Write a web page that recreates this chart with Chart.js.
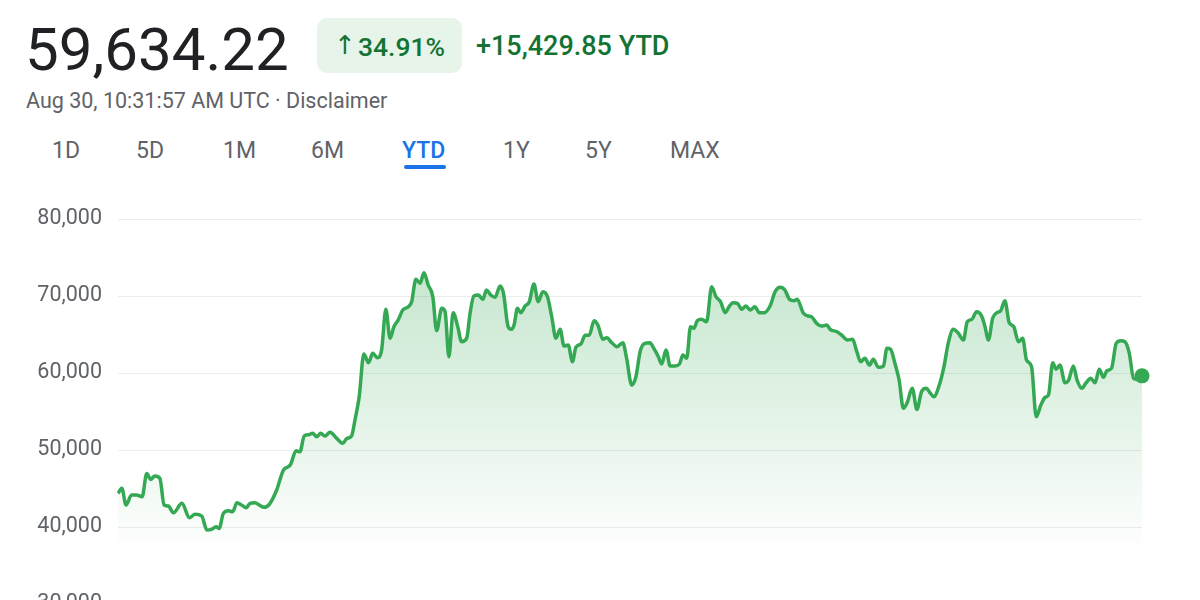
<!DOCTYPE html>
<html>
<head>
<meta charset="utf-8">
<script src="https://cdn.jsdelivr.net/npm/chart.js@4"></script>
<style>
  html, body { margin: 0; padding: 0; width: 1200px; height: 600px; overflow: hidden; background: #fff; font-family: Roboto, "Noto Sans", sans-serif; }
  .abs { position: absolute; white-space: nowrap; line-height: 1; }
  #price { left: 25px; top: 20px; font-size: 60px; color: #202124; }
  #badge { left: 317px; top: 18px; width: 145px; height: 55px; background: #e6f4ea; border-radius: 10px; }
  #arrow { left: 334px; top: 32px; font-size: 26px; color: #137333; font-family: "DejaVu Sans", sans-serif; font-weight: normal; }
  #pct { left: 358px; top: 34px; font-size: 26.5px; color: #137333; font-weight: 500; }
  #chg { left: 476px; top: 33px; font-size: 27px; color: #137333; font-weight: 500; }
  #sub { left: 26px; top: 90px; font-size: 21.5px; color: #5f6368; }
  .tab { top: 139px; font-size: 23px; color: #5f6368; font-weight: 400; }
  .tab.active { color: #1a73e8; font-weight: 500; }
  #uline { left: 404px; top: 165px; width: 42px; height: 4px; background: #1a73e8; border-radius: 2px; }
  #wrap { position: absolute; left: 0; top: 190px; width: 1200px; height: 443px; }
</style>
</head>
<body>
<div class="abs" id="price">59,634.22</div>
<div class="abs" id="badge"></div>
<div class="abs" id="arrow">↑</div>
<div class="abs" id="pct">34.91%</div>
<div class="abs" id="chg">+15,429.85 YTD</div>
<div class="abs" id="sub">Aug 30, 10:31:57 AM UTC · Disclaimer</div>
<div id="tabs"></div>
<div class="abs" id="uline"></div>
<div id="wrap"><canvas id="c" width="1200" height="443"></canvas></div>
<script>
const tabLabels = ["1D", "5D", "1M", "6M", "YTD", "1Y", "5Y", "MAX"];
const activeTab = "YTD";
const tabLeft = [52, 136, 223, 311, 402, 503, 585, 670];

const yTicks = [30000, 40000, 50000, 60000, 70000, 80000];

// day of year (0 = Jan 1, 242 = Aug 30)
const days = [
  0,0.9,1.9,3.2,4.4,5.7,6.8,7.7,8.7,9.9,10.9,11.9,13.1,15.1,16.9,18.2,19.8,21.0,22.1,23.2,23.9,24.9,26.1,27.1,28.1,29.2,30.3,31.2,32.4,33.4,34.5,35.8,37.5,39.1,40.7,42.1,
  43.0,44.0,45.0,46.0,47.0,47.9,48.9,50.1,51.7,53.1,54.1,55.2,56.0,57.0,58.1,59.2,60.2,61.3,62.3,63.3,64.3,65.2,66.2,67.3,68.6,69.4,70.4,71.4,72.3,73.3,74.4,75.3,76.5,77.3,78.2,79.2,80.3,81.2,82.4,
  83.2,84.1,85.2,86.2,87.1,88.1,89.1,90.3,91.1,92.2,93.0,93.6,94.4,95.2,96.2,97.2,98.3,99.3,100.4,101.5,102.5,103.5,104.5,105.4,106.4,107.4,108.2,109.4,110.4,111.4,112.5,113.4,114.6,115.5,116.7,117.9,119.3,120.2,121.4,122.4,123.4,124.5,125.7,
  126.5,127.7,128.5,129.5,130.5,131.6,132.7,133.5,134.4,135.3,136.1,136.9,137.9,139.1,140.3,141.3,142.4,143.5,144.5,145.4,146.4,147.4,148.4,149.4,150.5,151.6,152.7,154.1,155.3,156.5,157.6,158.7,159.8,160.5,162.0,163.1,163.9,165.1,166.3,167.5,168.3,
  169.9,171.0,172.4,173.6,174.6,175.5,176.5,177.6,178.5,179.7,180.9,181.7,182.6,183.6,184.6,185.6,186.5,187.7,188.8,189.9,191.0,191.9,192.8,194.1,195.2,196.2,197.4,198.6,199.8,200.7,201.8,202.9,204.1,204.9,205.7,206.7,207.7,208.6,209.6,
  210.6,211.7,212.8,213.8,214.7,215.9,217.0,218.1,219.1,219.9,220.9,221.7,222.6,223.8,224.6,225.8,226.6,227.8,228.8,229.9,230.9,231.9,232.9,233.7,234.8,235.9,237.0,238.0,239.0,240.0,240.9,242
];
const prices = [
  44380,45030,42860,44160,44160,43940,46970,46190,46620,46320,42860,42730,41860,43080,41210,41650,41430,39610,39700,40040,39830,41780,42120,41990,43160,42860,42510,43080,43160,42860,42560,42990,44810,47400,48050,49910,
  49780,51820,51990,52170,51730,52170,51820,52300,51520,50870,51520,51820,53900,56920,62470,61340,62560,61990,62990,68270,64510,66010,66880,68180,68610,69260,72170,71650,73030,71430,69910,65490,68400,67960,62120,67830,66010,64060,64510,
  67750,70000,70130,69570,70780,70130,69830,71300,70350,66010,65680,66230,68400,67830,68700,69260,71560,69260,70560,69910,67310,64510,65680,63510,63640,61470,63340,63770,64900,64940,66790,66230,64380,64580,63940,63420,63940,61910,58440,59520,62800,63860,63940,
  63340,62120,61170,62990,60910,60910,61170,62340,61910,66010,65810,66790,66970,66660,71210,69910,69260,67830,68700,69130,69050,68270,68700,68180,68610,67830,67830,68700,70560,71130,70780,69570,69390,69570,67750,67400,67310,66450,66100,66230,65680,
  65360,64940,64290,64380,62770,61470,61910,61040,61780,60740,60910,63210,63080,61260,59090,55420,56140,58010,55290,57570,58010,57440,56920,58440,60820,63860,65680,65160,64290,66660,66970,67960,67400,66010,64290,67100,67830,68090,69390,
  66560,66010,64060,64510,61690,60820,54330,55840,56840,57140,61340,60480,61040,58740,59000,60910,59180,58010,58740,59310,58740,60480,59440,60300,60610,63860,64200,64060,62560,59310,59180,59634.22
];

// tabs as text
const tabsEl = document.getElementById('tabs');
tabLabels.forEach((t, i) => {
  const d = document.createElement('div');
  d.className = 'abs tab' + (t === activeTab ? ' active' : '');
  d.style.left = tabLeft[i] + 'px';
  d.textContent = t;
  tabsEl.appendChild(d);
});

const points = days.map((d, i) => ({ x: d, y: prices[i] }));
const lastIdx = points.length - 1;
const green = '#34a853';

new Chart(document.getElementById('c'), {
  type: 'line',
  data: {
    datasets: [{
      data: points,
      clip: false,
      borderColor: green,
      borderWidth: 3.5,
      cubicInterpolationMode: 'monotone',
      pointRadius: ctx => ctx.dataIndex === lastIdx ? 7.5 : 0,
      pointHoverRadius: 0,
      pointBackgroundColor: green,
      pointBorderWidth: 0,
      fill: { value: 36800 },
      backgroundColor: (ctx) => {
        const ch = ctx.chart; const a = ch.chartArea;
        if (!a) return 'rgba(52,168,83,0.15)';
        const ys = ch.scales.y;
        const g = ch.ctx.createLinearGradient(0, ys.getPixelForValue(73000), 0, ys.getPixelForValue(36800));
        g.addColorStop(0, 'rgba(52,168,83,0.28)');
        g.addColorStop(0.5, 'rgba(52,168,83,0.14)');
        g.addColorStop(1, 'rgba(52,168,83,0.0)');
        return g;
      }
    }]
  },
  options: {
    responsive: false,
    animation: false,
    events: [],
    layout: { padding: { top: 29, bottom: 3, left: 0, right: 58 } },
    plugins: { legend: { display: false }, tooltip: { enabled: false } },
    scales: {
      x: { type: 'linear', min: 0, max: 242, display: false },
      y: {
        min: 30000, max: 80000,
        afterFit: s => { s.width = 118; },
        afterBuildTicks: s => { s.ticks = yTicks.map(v => ({ value: v })); },
        border: { display: false },
        grid: { color: '#ececec', lineWidth: 1, drawTicks: false },
        ticks: {
          padding: 16,
          color: '#5f6368',
          font: { family: 'Roboto', size: 21.5 },
          callback: v => v.toLocaleString('en-US')
        }
      }
    }
  }
});
</script>
</body>
</html>
